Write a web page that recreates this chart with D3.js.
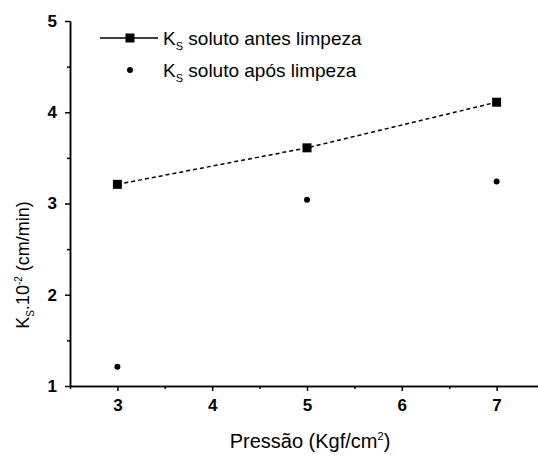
<html>
<head>
<meta charset="utf-8">
<title>Ks vs Pressao</title>
<script src="https://d3js.org/d3.v7.min.js"></script>
<style>
  body { margin: 0; background: #fff; }
  text { font-family: "Liberation Sans", Arial, sans-serif; fill: #000; }
  .axis path, .axis line { stroke: #000; stroke-width: 1.5; }
  .axis text { font-weight: bold; font-size: 17px; }
</style>
</head>
<body>
<div id="chart"></div>
<script>
// data
const pressures = [3, 5, 7];
const ksBefore = [3.21, 3.61, 4.11];
const ksAfter = [1.21, 3.04, 3.24];
const xTicks = [3, 4, 5, 6, 7];
const yTicks = [1, 2, 3, 4, 5];
const xMinor = [2.5, 3.5, 4.5, 5.5, 6.5, 7.5];
const yMinor = [1.5, 2.5, 3.5, 4.5];

const width = 538, height = 460;

const x = d3.scaleLinear().domain([2.5, 7.5]).range([70, 544]);
const y = d3.scaleLinear().domain([1, 5]).range([386, 21]);

const svg = d3.select("#chart").append("svg")
  .attr("width", width)
  .attr("height", height);

// minor ticks
svg.append("g")
  .attr("class", "axis")
  .attr("transform", "translate(0," + y(1) + ")")
  .call(d3.axisBottom(x).tickValues(xMinor).tickSize(3).tickSizeOuter(0).tickFormat(""));
svg.append("g")
  .attr("class", "axis")
  .attr("transform", "translate(" + x(2.5) + ",0)")
  .call(d3.axisLeft(y).tickValues(yMinor).tickSize(3).tickSizeOuter(0).tickFormat(""));

// main axes
svg.append("g")
  .attr("class", "axis")
  .attr("transform", "translate(0," + y(1) + ")")
  .call(d3.axisBottom(x).tickValues(xTicks).tickSize(5).tickSizeOuter(0).tickPadding(8).tickFormat(d3.format("d")));
svg.append("g")
  .attr("class", "axis")
  .attr("transform", "translate(" + x(2.5) + ",0)")
  .call(d3.axisLeft(y).tickValues(yTicks).tickSize(5).tickSizeOuter(0).tickPadding(8).tickFormat(d3.format("d")));

// axis titles
const xt = svg.append("text")
  .attr("x", 310)
  .attr("y", 448)
  .attr("text-anchor", "middle")
  .style("font-size", "20px");
xt.append("tspan").text("Pressão (Kgf/cm");
xt.append("tspan").attr("dy", -8).style("font-size", "11px").text("2");
xt.append("tspan").attr("dy", 8).text(")");

const yt = svg.append("text")
  .attr("transform", "translate(29,265) rotate(-90)")
  .attr("text-anchor", "middle")
  .style("font-size", "18px");
yt.append("tspan").text("K");
yt.append("tspan").attr("dy", 5).style("font-size", "10px").text("S");
yt.append("tspan").attr("dy", -5).text(".10");
yt.append("tspan").attr("dy", -7).style("font-size", "10px").text("-2");
yt.append("tspan").attr("dy", 7).text(" (cm/min)");

// series 1: squares + dashed line
const before = pressures.map((p, i) => ({ x: p, y: ksBefore[i] }));
const after = pressures.map((p, i) => ({ x: p, y: ksAfter[i] }));

svg.append("path")
  .datum(before)
  .attr("fill", "none")
  .attr("stroke", "#000")
  .attr("stroke-width", 1.5)
  .attr("stroke-dasharray", "4,3")
  .attr("d", d3.line().x(d => x(d.x)).y(d => y(d.y)));

svg.selectAll(".sq")
  .data(before)
  .enter().append("rect")
  .attr("class", "sq")
  .attr("x", d => x(d.x) - 4.5)
  .attr("y", d => y(d.y) - 4.5)
  .attr("width", 9)
  .attr("height", 9)
  .attr("fill", "#000");

// series 2: small dots
svg.selectAll(".dot")
  .data(after)
  .enter().append("circle")
  .attr("class", "dot")
  .attr("cx", d => x(d.x))
  .attr("cy", d => y(d.y))
  .attr("r", 3)
  .attr("fill", "#000");

// legend
const legend = svg.append("g");
legend.append("line")
  .attr("x1", 100).attr("x2", 158)
  .attr("y1", 38).attr("y2", 38)
  .attr("stroke", "#000").attr("stroke-width", 1.5);
legend.append("rect")
  .attr("x", 125.5).attr("y", 33.5).attr("width", 9).attr("height", 9)
  .attr("fill", "#000");
legend.append("circle")
  .attr("cx", 130).attr("cy", 70).attr("r", 3)
  .attr("fill", "#000");

const l1 = legend.append("text").attr("x", 163).attr("y", 45).style("font-size", "19px");
l1.append("tspan").text("K");
l1.append("tspan").attr("dy", 5).style("font-size", "11px").text("S");
l1.append("tspan").attr("dy", -5).text(" soluto antes limpeza");

const l2 = legend.append("text").attr("x", 163).attr("y", 77).style("font-size", "19px");
l2.append("tspan").text("K");
l2.append("tspan").attr("dy", 5).style("font-size", "11px").text("S");
l2.append("tspan").attr("dy", -5).text(" soluto após limpeza");
</script>
</body>
</html>
